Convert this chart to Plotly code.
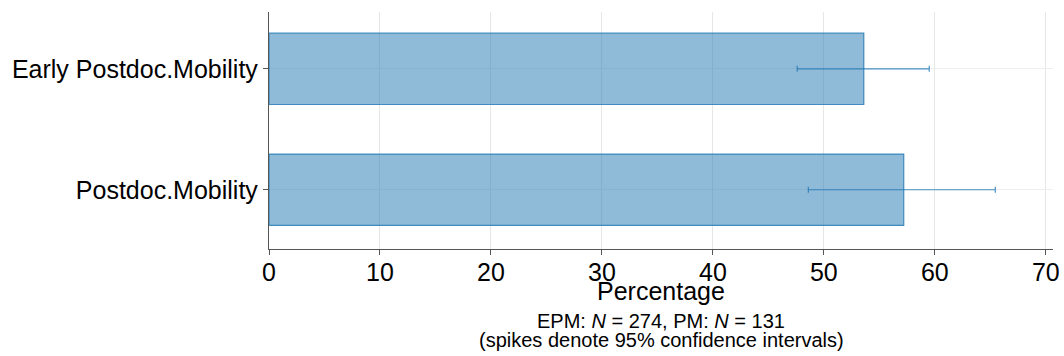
import plotly.graph_objects as go

# Share of respondents per funding scheme, with 95% confidence bounds
categories = ["Postdoc.Mobility", "Early Postdoc.Mobility"]
percentages = [57.2, 53.6]
ci_lower = [48.6, 47.6]
ci_upper = [65.45, 59.5]

err_plus = [u - p for u, p in zip(ci_upper, percentages)]
err_minus = [p - l for p, l in zip(percentages, ci_lower)]

FONT = "Arial, Liberation Sans, sans-serif"

fig = go.Figure()
fig.add_trace(go.Bar(
    y=categories,
    x=percentages,
    orientation="h",
    width=0.59,
    marker=dict(color="rgba(31,119,180,0.5)",
                line=dict(color="rgba(31,119,180,0.8)", width=1.2)),
    error_x=dict(type="data", symmetric=False, array=err_plus, arrayminus=err_minus,
                 color="rgba(31,119,180,0.8)", thickness=1.2, width=3),
    showlegend=False,
))


def caption(text, size, shift):
    # text centred under the plot area, offset downward from its bottom edge
    return dict(text=text, xref="paper", yref="paper", x=0.5, y=0,
                xanchor="center", yanchor="middle", yshift=shift,
                showarrow=False, font=dict(size=size, family=FONT))


fig.update_layout(
    width=1064, height=356,
    margin=dict(l=269, r=11, t=12, b=107),
    paper_bgcolor="white", plot_bgcolor="white",
    font=dict(family=FONT, color="black"),
    xaxis=dict(
        range=[0, 70.65], tickvals=[0, 10, 20, 30, 40, 50, 60, 70],
        showgrid=True, gridcolor="#e6e6e6", gridwidth=1,
        showline=True, linecolor="#555555", linewidth=1.3,
        ticks="outside", ticklen=5, tickcolor="#555555",
        tickfont=dict(size=25, family=FONT), ticklabelstandoff=-4,
        zeroline=False, automargin=False,
    ),
    yaxis=dict(
        range=[-0.49, 1.47],
        showgrid=True, gridcolor="#eeeeee", gridwidth=1,
        showline=True, linecolor="#555555", linewidth=1.3,
        ticks="outside", ticklen=5, tickcolor="#555555",
        tickfont=dict(size=25, family=FONT),
        zeroline=False, automargin=False,
    ),
    annotations=[
        caption("Percentage", 25, -42),
        caption("EPM: <i>N</i> = 274, PM: <i>N</i> = 131", 20, -72),
        caption("(spikes denote 95% confidence intervals)", 20, -91),
    ],
)

fig.write_html("out.html")
